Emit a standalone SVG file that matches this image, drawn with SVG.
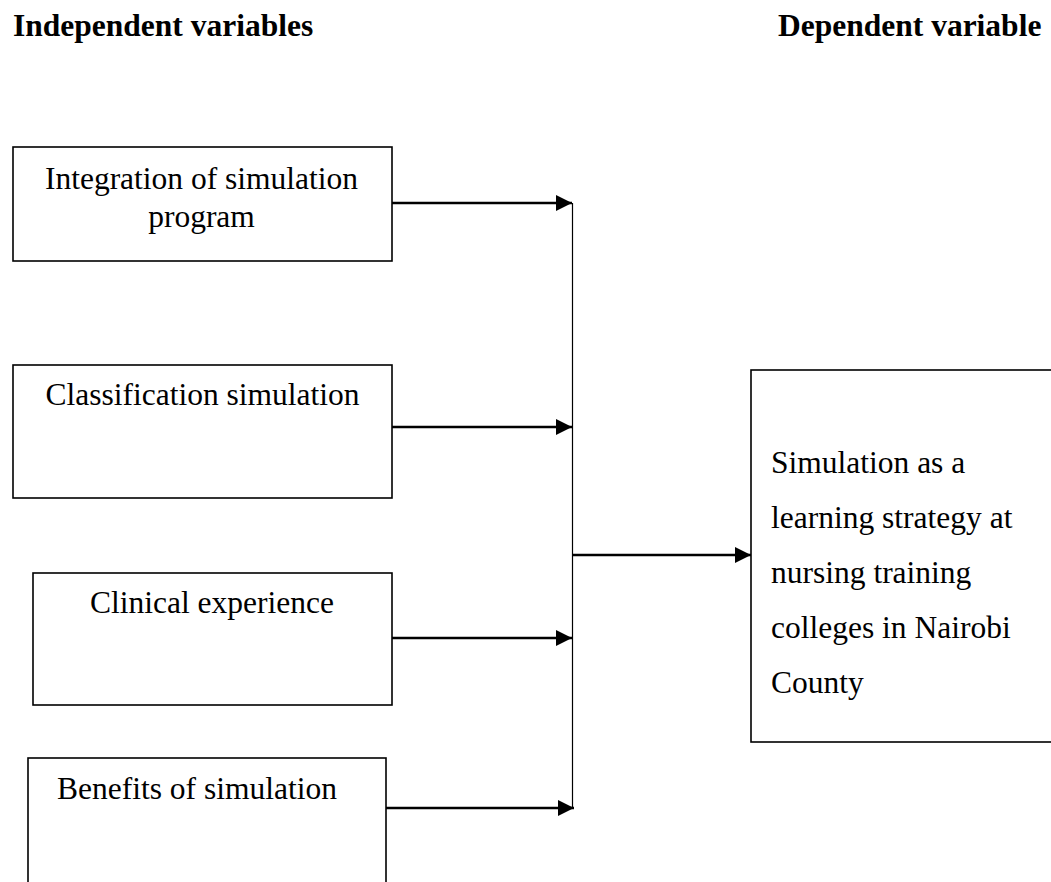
<svg xmlns="http://www.w3.org/2000/svg" width="1051" height="882" viewBox="0 0 1051 882">
<style>
.box{fill:#fff;stroke:#000;stroke-width:1.6}
.t{font-family:"Liberation Serif","Times New Roman",serif;font-size:31.5px;fill:#000}
.h{font-family:"Liberation Serif","Times New Roman",serif;font-size:31.5px;font-weight:bold;fill:#000}
.arr{stroke:#000;stroke-width:2.6;fill:none;marker-end:url(#ah)}
.bus{stroke:#000;stroke-width:1.2;fill:none}
</style>
<defs>
<marker id="ah" markerUnits="userSpaceOnUse" markerWidth="17" markerHeight="16" refX="16" refY="8" orient="auto">
<path d="M0,0 L16,8 L0,16 Z" fill="#000"/>
</marker>
</defs>
<rect width="1051" height="882" fill="#fff"/>
<text class="h" x="13" y="36">Independent variables</text>
<text class="h" x="778" y="36">Dependent variable</text>
<g id="node-integration">
<rect class="box" x="13" y="147" width="379" height="114"/>
<text class="t" x="201.5" y="189" text-anchor="middle">Integration of simulation</text>
<text class="t" x="201.5" y="227" text-anchor="middle">program</text>
</g>
<g id="node-classification">
<rect class="box" x="13" y="365" width="379" height="133"/>
<text class="t" x="202.5" y="405" text-anchor="middle">Classification simulation</text>
</g>
<g id="node-clinical">
<rect class="box" x="33" y="573" width="359" height="132"/>
<text class="t" x="212" y="613" text-anchor="middle">Clinical experience</text>
</g>
<g id="node-benefits">
<rect class="box" x="28" y="758" width="358" height="140"/>
<text class="t" x="57" y="799">Benefits of simulation</text>
</g>
<g id="node-dependent">
<rect class="box" x="751" y="370" width="310" height="372"/>
<text class="t" x="771" y="473">Simulation as a</text>
<text class="t" x="771" y="528">learning strategy at</text>
<text class="t" x="771" y="583">nursing training</text>
<text class="t" x="771" y="638">colleges in Nairobi</text>
<text class="t" x="771" y="693">County</text>
</g>
<g id="connectors">
<line class="bus" x1="572.5" y1="203" x2="572.5" y2="808"/>
<line class="arr" x1="392" y1="203" x2="572" y2="203"/>
<line class="arr" x1="392" y1="427" x2="572" y2="427"/>
<line class="arr" x1="392" y1="638" x2="572" y2="638"/>
<line class="arr" x1="386" y1="808" x2="574" y2="808"/>
<line class="arr" x1="572" y1="555" x2="751" y2="555"/>
</g>
</svg>
